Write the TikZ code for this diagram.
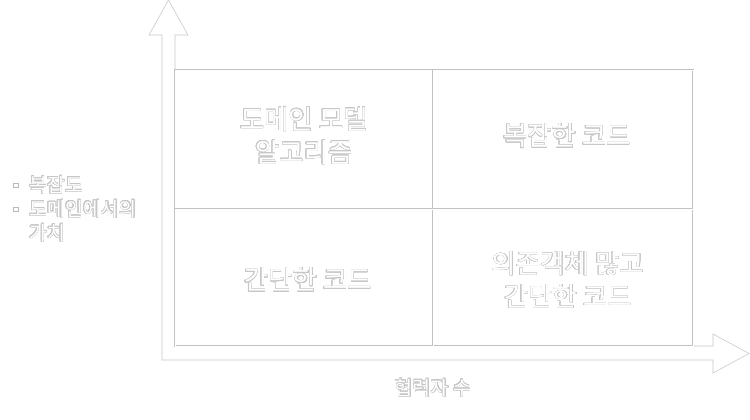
\documentclass[tikz,border=0pt]{standalone}
\usepackage{fontspec}
\usepackage{contour}
\newfontfamily\kr{Noto Sans CJK KR}
\contourlength{0.4pt}
\contournumber{24}
\tikzset{
  outl/.style={draw=black!22, line width=0.55pt, fill=white},
  gridline/.style={draw=black!24, line width=0.45pt, double=white, double distance=0.9pt},
  quad/.style={font=\kr\fontsize{26.5}{33}\selectfont, align=center, text=white, inner sep=0pt},
  axlab/.style={font=\kr\fontsize{19.5}{24}\selectfont, text=white, inner sep=0pt},
}
\newcommand{\ol}[1]{\contour{black!22}{#1}}
\begin{document}
\begin{tikzpicture}[x=1pt,y=-1pt]
\useasboundingbox (0,0) rectangle (750,420);
% L-shaped hollow arrows
\path[outl] (168.5,0) -- (188,35) -- (175,35) -- (175,346) -- (713,346) -- (713,334)
  -- (749,353.5) -- (713,373) -- (713,360) -- (162,360) -- (162,35) -- (149,35) -- cycle;
% grid
\coordinate (tl) at (175,70);
\coordinate (br) at (693,346);
\draw[gridline] (tl) rectangle (br);
\coordinate (vt) at (433,70);
\coordinate (vb) at (433,346);
\coordinate (hl) at (175,209);
\coordinate (hr) at (693,209);
\draw[gridline] (vt) -- (vb);
\draw[gridline] (hl) -- (hr);
% quadrant texts
\node[quad] (q1) at (304,136) {\ol{도메인 모델}\\\ol{알고리즘}};
\node[quad] (q2) at (567,136) {\ol{복잡한 코드}};
\node[quad] (q3) at (308,280) {\ol{간단한 코드}};
\node[quad] (q4) at (568,280) {\ol{의존객체 많고}\\\ol{간단한 코드}};
% y label
\node[draw=black!28, line width=0.4pt, minimum size=4.5pt, inner sep=0pt] (b1) at (15.5,185) {};
\node[draw=black!28, line width=0.4pt, minimum size=4.5pt, inner sep=0pt] (b2) at (15.5,209) {};
\node[axlab, anchor=west] (y1) at (29,185) {\ol{복잡도}};
\node[axlab, anchor=west] (y2) at (29,209) {\ol{도메인에서의}};
\node[axlab, anchor=west] (y3) at (29,233) {\ol{가치}};
% x label
\node[axlab] (xl) at (433,388) {\ol{협력자 수}};
\end{tikzpicture}
\end{document}
